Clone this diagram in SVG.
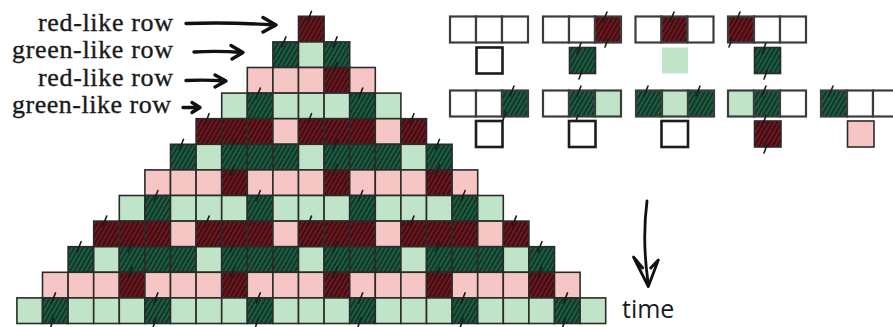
<svg xmlns="http://www.w3.org/2000/svg" width="893" height="327" viewBox="0 0 893 327">
<defs>
<pattern id="hr" patternUnits="userSpaceOnUse" width="3.9" height="10" patternTransform="rotate(30)">
<rect width="3.9" height="10" fill="#6e1820"/>
<line x1="1" y1="0" x2="1" y2="10" stroke="#2c080b" stroke-width="1.4"/>
</pattern>
<pattern id="hg" patternUnits="userSpaceOnUse" width="3.9" height="10" patternTransform="rotate(30)">
<rect width="3.9" height="10" fill="#1d5d42"/>
<line x1="1" y1="0" x2="1" y2="10" stroke="#0b281b" stroke-width="1.4"/>
</pattern>
</defs>
<style>
.c{stroke:#2b2b2b;stroke-width:1.6}
.R{fill:url(#hr)}
.G{fill:url(#hg)}
.p{fill:#f5c6c3}
.l{fill:#bfe4c7}
.w{fill:#fff}
.rb{stroke:#3c3c3c;stroke-width:2.2}
.ob{fill:#fff;stroke:#1c1c1c;stroke-width:2.6}
.tk{fill:none;stroke:#1b1b1b;stroke-width:1.6;stroke-linecap:round}
.ar{fill:none;stroke:#111;stroke-width:3.4;stroke-linecap:round;stroke-linejoin:round}
.lab{font-family:"Liberation Serif","Times New Roman",serif;font-size:26px;fill:#1a1a1a;stroke:#1a1a1a;stroke-width:0.35}
.tm{font-family:"Open Sans","Liberation Sans",sans-serif;font-size:25px;fill:#1a1a1a}
</style>

<g id="triangle">
<g id="row-0">
<rect class="c R" x="298.5" y="16.3" width="25.6" height="25.6"/>
</g>
<g id="row-1">
<rect class="c G" x="272.9" y="41.9" width="25.6" height="25.6"/>
<rect class="c l" x="298.5" y="41.9" width="25.6" height="25.6"/>
<rect class="c G" x="324.1" y="41.9" width="25.6" height="25.6"/>
</g>
<g id="row-2">
<rect class="c p" x="247.3" y="67.5" width="25.6" height="25.6"/>
<rect class="c p" x="272.9" y="67.5" width="25.6" height="25.6"/>
<rect class="c p" x="298.5" y="67.5" width="25.6" height="25.6"/>
<rect class="c R" x="324.1" y="67.5" width="25.6" height="25.6"/>
<rect class="c p" x="349.7" y="67.5" width="25.6" height="25.6"/>
</g>
<g id="row-3">
<rect class="c l" x="221.7" y="93.1" width="25.6" height="25.6"/>
<rect class="c G" x="247.3" y="93.1" width="25.6" height="25.6"/>
<rect class="c l" x="272.9" y="93.1" width="25.6" height="25.6"/>
<rect class="c l" x="298.5" y="93.1" width="25.6" height="25.6"/>
<rect class="c l" x="324.1" y="93.1" width="25.6" height="25.6"/>
<rect class="c G" x="349.7" y="93.1" width="25.6" height="25.6"/>
<rect class="c l" x="375.3" y="93.1" width="25.6" height="25.6"/>
</g>
<g id="row-4">
<rect class="c R" x="196.1" y="118.7" width="25.6" height="25.6"/>
<rect class="c R" x="221.7" y="118.7" width="25.6" height="25.6"/>
<rect class="c R" x="247.3" y="118.7" width="25.6" height="25.6"/>
<rect class="c p" x="272.9" y="118.7" width="25.6" height="25.6"/>
<rect class="c R" x="298.5" y="118.7" width="25.6" height="25.6"/>
<rect class="c R" x="324.1" y="118.7" width="25.6" height="25.6"/>
<rect class="c R" x="349.7" y="118.7" width="25.6" height="25.6"/>
<rect class="c p" x="375.3" y="118.7" width="25.6" height="25.6"/>
<rect class="c R" x="400.9" y="118.7" width="25.6" height="25.6"/>
</g>
<g id="row-5">
<rect class="c G" x="170.5" y="144.3" width="25.6" height="25.6"/>
<rect class="c l" x="196.1" y="144.3" width="25.6" height="25.6"/>
<rect class="c G" x="221.7" y="144.3" width="25.6" height="25.6"/>
<rect class="c G" x="247.3" y="144.3" width="25.6" height="25.6"/>
<rect class="c G" x="272.9" y="144.3" width="25.6" height="25.6"/>
<rect class="c l" x="298.5" y="144.3" width="25.6" height="25.6"/>
<rect class="c G" x="324.1" y="144.3" width="25.6" height="25.6"/>
<rect class="c G" x="349.7" y="144.3" width="25.6" height="25.6"/>
<rect class="c G" x="375.3" y="144.3" width="25.6" height="25.6"/>
<rect class="c l" x="400.9" y="144.3" width="25.6" height="25.6"/>
<rect class="c G" x="426.5" y="144.3" width="25.6" height="25.6"/>
</g>
<g id="row-6">
<rect class="c p" x="144.9" y="169.9" width="25.6" height="25.6"/>
<rect class="c p" x="170.5" y="169.9" width="25.6" height="25.6"/>
<rect class="c p" x="196.1" y="169.9" width="25.6" height="25.6"/>
<rect class="c R" x="221.7" y="169.9" width="25.6" height="25.6"/>
<rect class="c p" x="247.3" y="169.9" width="25.6" height="25.6"/>
<rect class="c p" x="272.9" y="169.9" width="25.6" height="25.6"/>
<rect class="c p" x="298.5" y="169.9" width="25.6" height="25.6"/>
<rect class="c R" x="324.1" y="169.9" width="25.6" height="25.6"/>
<rect class="c p" x="349.7" y="169.9" width="25.6" height="25.6"/>
<rect class="c p" x="375.3" y="169.9" width="25.6" height="25.6"/>
<rect class="c p" x="400.9" y="169.9" width="25.6" height="25.6"/>
<rect class="c R" x="426.5" y="169.9" width="25.6" height="25.6"/>
<rect class="c p" x="452.1" y="169.9" width="25.6" height="25.6"/>
</g>
<g id="row-7">
<rect class="c l" x="119.3" y="195.5" width="25.6" height="25.6"/>
<rect class="c G" x="144.9" y="195.5" width="25.6" height="25.6"/>
<rect class="c l" x="170.5" y="195.5" width="25.6" height="25.6"/>
<rect class="c l" x="196.1" y="195.5" width="25.6" height="25.6"/>
<rect class="c l" x="221.7" y="195.5" width="25.6" height="25.6"/>
<rect class="c G" x="247.3" y="195.5" width="25.6" height="25.6"/>
<rect class="c l" x="272.9" y="195.5" width="25.6" height="25.6"/>
<rect class="c l" x="298.5" y="195.5" width="25.6" height="25.6"/>
<rect class="c l" x="324.1" y="195.5" width="25.6" height="25.6"/>
<rect class="c G" x="349.7" y="195.5" width="25.6" height="25.6"/>
<rect class="c l" x="375.3" y="195.5" width="25.6" height="25.6"/>
<rect class="c l" x="400.9" y="195.5" width="25.6" height="25.6"/>
<rect class="c l" x="426.5" y="195.5" width="25.6" height="25.6"/>
<rect class="c G" x="452.1" y="195.5" width="25.6" height="25.6"/>
<rect class="c l" x="477.7" y="195.5" width="25.6" height="25.6"/>
</g>
<g id="row-8">
<rect class="c R" x="93.7" y="221.1" width="25.6" height="25.6"/>
<rect class="c R" x="119.3" y="221.1" width="25.6" height="25.6"/>
<rect class="c R" x="144.9" y="221.1" width="25.6" height="25.6"/>
<rect class="c p" x="170.5" y="221.1" width="25.6" height="25.6"/>
<rect class="c R" x="196.1" y="221.1" width="25.6" height="25.6"/>
<rect class="c R" x="221.7" y="221.1" width="25.6" height="25.6"/>
<rect class="c R" x="247.3" y="221.1" width="25.6" height="25.6"/>
<rect class="c p" x="272.9" y="221.1" width="25.6" height="25.6"/>
<rect class="c R" x="298.5" y="221.1" width="25.6" height="25.6"/>
<rect class="c R" x="324.1" y="221.1" width="25.6" height="25.6"/>
<rect class="c R" x="349.7" y="221.1" width="25.6" height="25.6"/>
<rect class="c p" x="375.3" y="221.1" width="25.6" height="25.6"/>
<rect class="c R" x="400.9" y="221.1" width="25.6" height="25.6"/>
<rect class="c R" x="426.5" y="221.1" width="25.6" height="25.6"/>
<rect class="c R" x="452.1" y="221.1" width="25.6" height="25.6"/>
<rect class="c p" x="477.7" y="221.1" width="25.6" height="25.6"/>
<rect class="c R" x="503.3" y="221.1" width="25.6" height="25.6"/>
</g>
<g id="row-9">
<rect class="c G" x="68.1" y="246.7" width="25.6" height="25.6"/>
<rect class="c l" x="93.7" y="246.7" width="25.6" height="25.6"/>
<rect class="c G" x="119.3" y="246.7" width="25.6" height="25.6"/>
<rect class="c G" x="144.9" y="246.7" width="25.6" height="25.6"/>
<rect class="c G" x="170.5" y="246.7" width="25.6" height="25.6"/>
<rect class="c l" x="196.1" y="246.7" width="25.6" height="25.6"/>
<rect class="c G" x="221.7" y="246.7" width="25.6" height="25.6"/>
<rect class="c G" x="247.3" y="246.7" width="25.6" height="25.6"/>
<rect class="c G" x="272.9" y="246.7" width="25.6" height="25.6"/>
<rect class="c l" x="298.5" y="246.7" width="25.6" height="25.6"/>
<rect class="c G" x="324.1" y="246.7" width="25.6" height="25.6"/>
<rect class="c G" x="349.7" y="246.7" width="25.6" height="25.6"/>
<rect class="c G" x="375.3" y="246.7" width="25.6" height="25.6"/>
<rect class="c l" x="400.9" y="246.7" width="25.6" height="25.6"/>
<rect class="c G" x="426.5" y="246.7" width="25.6" height="25.6"/>
<rect class="c G" x="452.1" y="246.7" width="25.6" height="25.6"/>
<rect class="c G" x="477.7" y="246.7" width="25.6" height="25.6"/>
<rect class="c l" x="503.3" y="246.7" width="25.6" height="25.6"/>
<rect class="c G" x="528.9" y="246.7" width="25.6" height="25.6"/>
</g>
<g id="row-10">
<rect class="c p" x="42.5" y="272.3" width="25.6" height="25.6"/>
<rect class="c p" x="68.1" y="272.3" width="25.6" height="25.6"/>
<rect class="c p" x="93.7" y="272.3" width="25.6" height="25.6"/>
<rect class="c R" x="119.3" y="272.3" width="25.6" height="25.6"/>
<rect class="c p" x="144.9" y="272.3" width="25.6" height="25.6"/>
<rect class="c p" x="170.5" y="272.3" width="25.6" height="25.6"/>
<rect class="c p" x="196.1" y="272.3" width="25.6" height="25.6"/>
<rect class="c R" x="221.7" y="272.3" width="25.6" height="25.6"/>
<rect class="c p" x="247.3" y="272.3" width="25.6" height="25.6"/>
<rect class="c p" x="272.9" y="272.3" width="25.6" height="25.6"/>
<rect class="c p" x="298.5" y="272.3" width="25.6" height="25.6"/>
<rect class="c R" x="324.1" y="272.3" width="25.6" height="25.6"/>
<rect class="c p" x="349.7" y="272.3" width="25.6" height="25.6"/>
<rect class="c p" x="375.3" y="272.3" width="25.6" height="25.6"/>
<rect class="c p" x="400.9" y="272.3" width="25.6" height="25.6"/>
<rect class="c R" x="426.5" y="272.3" width="25.6" height="25.6"/>
<rect class="c p" x="452.1" y="272.3" width="25.6" height="25.6"/>
<rect class="c p" x="477.7" y="272.3" width="25.6" height="25.6"/>
<rect class="c p" x="503.3" y="272.3" width="25.6" height="25.6"/>
<rect class="c R" x="528.9" y="272.3" width="25.6" height="25.6"/>
<rect class="c p" x="554.5" y="272.3" width="25.6" height="25.6"/>
</g>
<g id="row-11">
<rect class="c l" x="16.9" y="297.9" width="25.6" height="25.6"/>
<rect class="c G" x="42.5" y="297.9" width="25.6" height="25.6"/>
<rect class="c l" x="68.1" y="297.9" width="25.6" height="25.6"/>
<rect class="c l" x="93.7" y="297.9" width="25.6" height="25.6"/>
<rect class="c l" x="119.3" y="297.9" width="25.6" height="25.6"/>
<rect class="c G" x="144.9" y="297.9" width="25.6" height="25.6"/>
<rect class="c l" x="170.5" y="297.9" width="25.6" height="25.6"/>
<rect class="c l" x="196.1" y="297.9" width="25.6" height="25.6"/>
<rect class="c l" x="221.7" y="297.9" width="25.6" height="25.6"/>
<rect class="c G" x="247.3" y="297.9" width="25.6" height="25.6"/>
<rect class="c l" x="272.9" y="297.9" width="25.6" height="25.6"/>
<rect class="c l" x="298.5" y="297.9" width="25.6" height="25.6"/>
<rect class="c l" x="324.1" y="297.9" width="25.6" height="25.6"/>
<rect class="c G" x="349.7" y="297.9" width="25.6" height="25.6"/>
<rect class="c l" x="375.3" y="297.9" width="25.6" height="25.6"/>
<rect class="c l" x="400.9" y="297.9" width="25.6" height="25.6"/>
<rect class="c l" x="426.5" y="297.9" width="25.6" height="25.6"/>
<rect class="c G" x="452.1" y="297.9" width="25.6" height="25.6"/>
<rect class="c l" x="477.7" y="297.9" width="25.6" height="25.6"/>
<rect class="c l" x="503.3" y="297.9" width="25.6" height="25.6"/>
<rect class="c l" x="528.9" y="297.9" width="25.6" height="25.6"/>
<rect class="c G" x="554.5" y="297.9" width="25.6" height="25.6"/>
<rect class="c l" x="580.1" y="297.9" width="25.6" height="25.6"/>
</g>
<path class="tk" d="M307.5 21.3l4-10 M281.9 46.9l4-10 M333.1 46.9l4-10 M333.1 72.5l4-10 M256.3 98.1l4-10 M358.7 98.1l4-10 M205.1 123.7l4-10 M307.5 123.7l4-10 M409.9 123.7l4-10 M179.5 149.3l4-10 M230.7 149.3l4-10 M333.1 149.3l4-10 M435.5 149.3l4-10 M230.7 174.9l4-10 M333.1 174.9l4-10 M435.5 174.9l4-10 M153.9 200.5l4-10 M256.3 200.5l4-10 M358.7 200.5l4-10 M461.1 200.5l4-10 M102.7 226.1l4-10 M205.1 226.1l4-10 M307.5 226.1l4-10 M409.9 226.1l4-10 M512.3 226.1l4-10 M77.1 251.7l4-10 M128.3 251.7l4-10 M230.7 251.7l4-10 M333.1 251.7l4-10 M435.5 251.7l4-10 M537.9 251.7l4-10 M128.3 277.3l4-10 M230.7 277.3l4-10 M333.1 277.3l4-10 M435.5 277.3l4-10 M537.9 277.3l4-10 M51.5 302.9l4-10 M153.9 302.9l4-10 M256.3 302.9l4-10 M358.7 302.9l4-10 M461.1 302.9l4-10 M563.5 302.9l4-10 M50.5 328l3-10 M152.9 328l3-10 M255.3 328l3-10 M357.7 328l3-10 M460.1 328l3-10 M562.5 328l3-10"/>
</g>

<g id="rules">
<g id="rule-1">
<rect class="rb w" x="450" y="16.5" width="26" height="26"/>
<rect class="rb w" x="476" y="16.5" width="26" height="26"/>
<rect class="rb w" x="502" y="16.5" width="26" height="26"/>
<rect class="ob" x="476.5" y="47.5" width="26" height="26"/>
</g>
<g id="rule-2">
<rect class="rb w" x="543" y="16.5" width="26" height="26"/>
<rect class="rb w" x="569" y="16.5" width="26" height="26"/>
<rect class="rb R" x="595" y="16.5" width="26" height="26"/>
<rect class="c G" x="569.5" y="47.5" width="26" height="26"/>
<path class="tk" d="M603 22l4-10 M605 47l3-8 M577 53l4-10 M579 79l3-8"/>
</g>
<g id="rule-3">
<rect class="rb w" x="635.5" y="16.5" width="26" height="26"/>
<rect class="rb R" x="661.5" y="16.5" width="26" height="26"/>
<rect class="rb w" x="687.5" y="16.5" width="26" height="26"/>
<rect class="l" x="662" y="47.5" width="26" height="26"/>
<path class="tk" d="M670 22l4-10"/>
</g>
<g id="rule-4">
<rect class="rb R" x="728" y="16.5" width="26" height="26"/>
<rect class="rb w" x="754" y="16.5" width="26" height="26"/>
<rect class="rb w" x="780" y="16.5" width="26" height="26"/>
<rect class="c G" x="754.5" y="47.5" width="26" height="26"/>
<path class="tk" d="M736 22l4-10 M729 47l3-8 M762 53l4-10 M764 79l3-8"/>
</g>
<g id="rule-5">
<rect class="rb w" x="450" y="90.5" width="26" height="26"/>
<rect class="rb w" x="476" y="90.5" width="26" height="26"/>
<rect class="rb G" x="502" y="90.5" width="26" height="26"/>
<rect class="ob" x="476" y="121" width="26.5" height="26"/>
<path class="tk" d="M510 96l4-10 M503 120l3-8"/>
</g>
<g id="rule-6">
<rect class="rb w" x="543" y="90.5" width="26" height="26"/>
<rect class="rb G" x="569" y="90.5" width="26" height="26"/>
<rect class="rb l" x="595" y="90.5" width="26" height="26"/>
<rect class="ob" x="569" y="121" width="26.5" height="26"/>
<path class="tk" d="M577 96l4-10 M576 121l2-6"/>
</g>
<g id="rule-7">
<rect class="rb G" x="636" y="90.5" width="26" height="26"/>
<rect class="rb l" x="662" y="90.5" width="26" height="26"/>
<rect class="rb G" x="688" y="90.5" width="26" height="26"/>
<rect class="ob" x="661.5" y="121" width="26.5" height="26"/>
<path class="tk" d="M644 96l4-10 M696 96l4-10"/>
</g>
<g id="rule-8">
<rect class="rb l" x="728" y="90.5" width="26" height="26"/>
<rect class="rb G" x="754" y="90.5" width="26" height="26"/>
<rect class="rb w" x="780" y="90.5" width="26" height="26"/>
<rect class="c R" x="754.5" y="121" width="26.5" height="26"/>
<path class="tk" d="M762 96l4-10 M762 126l4-10 M764 153l3-8"/>
</g>
<g id="rule-9">
<rect class="rb G" x="821" y="90.5" width="26" height="26"/>
<rect class="rb w" x="847" y="90.5" width="26" height="26"/>
<rect class="rb w" x="873" y="90.5" width="26" height="26"/>
<rect class="c p" x="847.5" y="121" width="26.5" height="26"/>
<path class="tk" d="M829 96l4-10"/>
</g>
</g>

<g id="labels">
<text class="lab" x="173" y="30.5" text-anchor="end" textLength="135">red-like row</text>
<text class="lab" x="173" y="58" text-anchor="end" textLength="161">green-like row</text>
<text class="lab" x="173" y="86" text-anchor="end" textLength="135">red-like row</text>
<text class="lab" x="171" y="113" text-anchor="end" textLength="159">green-like row</text>
<text class="tm" x="622" y="318">time</text>
</g>

<g id="connectors">
<path class="ar" d="M186 23.5 Q230 22 275 25 M263 17.5 L276 25 L263 32"/>
<path class="ar" d="M194 52 Q218 50.5 242 52.5 M231 45.5 L243 52.5 L232 59"/>
<path class="ar" d="M186 80.5 Q205 79.5 225 81 M215 75 L226 81 L215 87"/>
<path class="ar" d="M183 107.5 L199 107.5 M192 102.5 L200 107.5 L192 112.5"/>
<path class="ar" style="stroke-width:2.8" d="M647 201 Q642 240 648 282 M642.7 268 L633.5 257 L648.3 286.5 L658.3 260 L650.7 268"/>
</g>
</svg>
